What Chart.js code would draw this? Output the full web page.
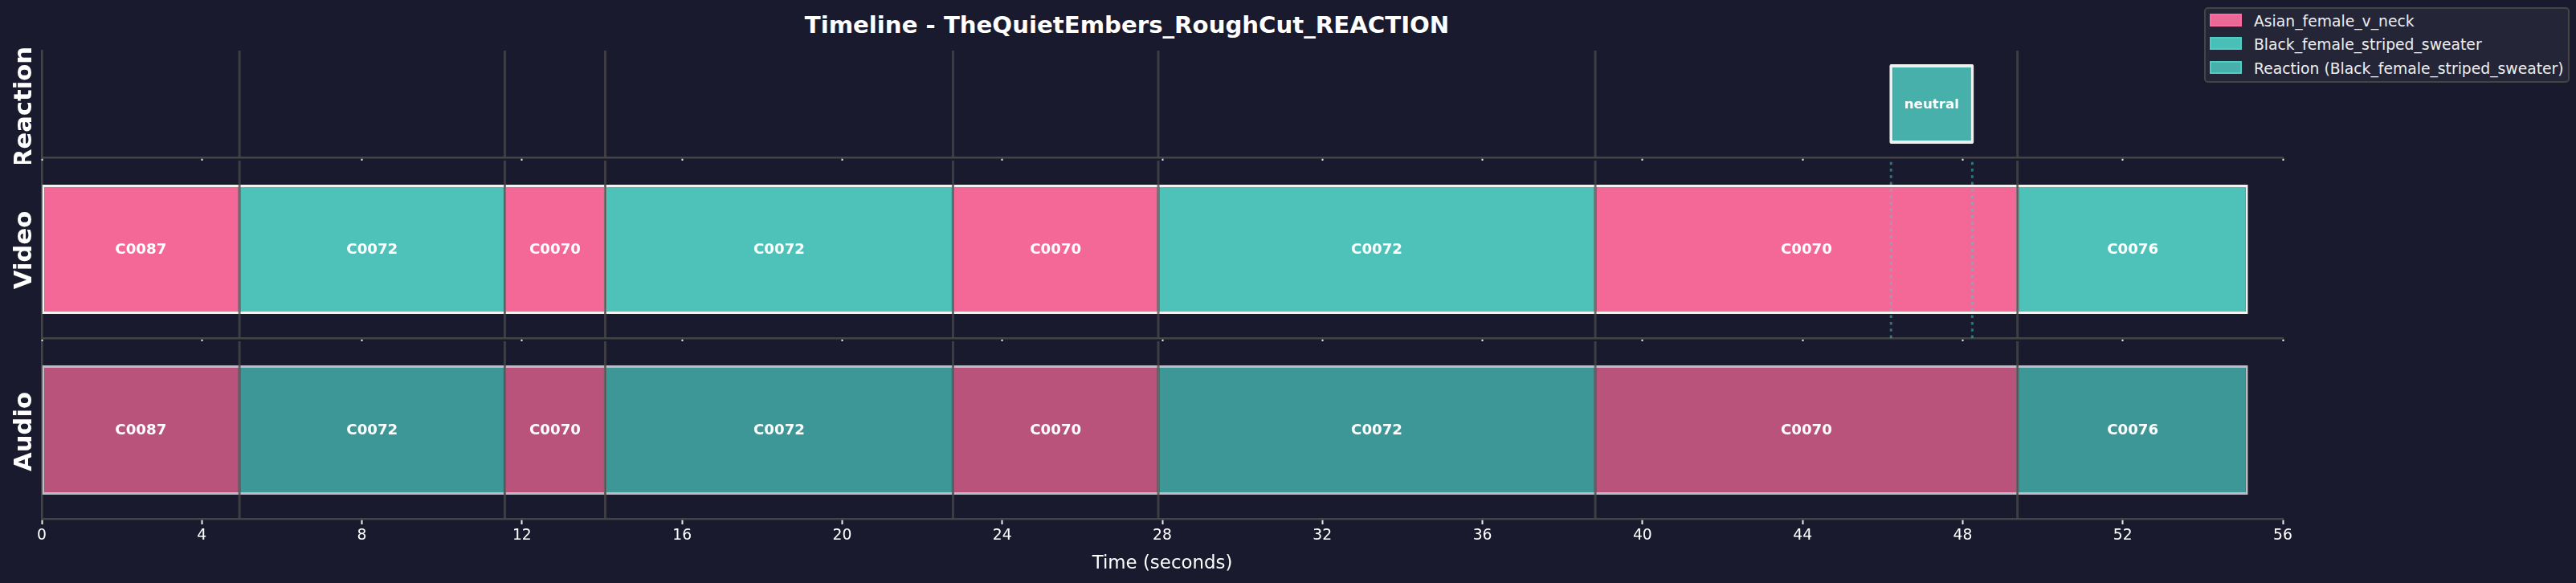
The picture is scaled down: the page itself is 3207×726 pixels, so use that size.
<!DOCTYPE html>
<html><head><meta charset="utf-8">
<script src="https://cdn.jsdelivr.net/npm/chart.js@4"></script>
<style>
html,body{margin:0;padding:0;background:#1a1a2e;width:3207px;height:726px;overflow:hidden;font-family:"DejaVu Sans",sans-serif}
canvas{position:absolute;left:0}
#title{position:absolute;left:0;width:2806px;top:13px;text-align:center;color:#fff;font-weight:bold;font-size:29.2px;line-height:36px;white-space:nowrap}
#legend{position:absolute;left:2744px;top:9px;width:451px;height:90px;background:#252538;border:2px solid #444;border-radius:5px}
.row{position:absolute;left:60px;color:#eee;font-size:18.75px;line-height:26px;white-space:nowrap}
.sw{position:absolute;left:5px;width:36px;height:12px;border:2px solid}
</style></head><body>
<div id="title">Timeline - TheQuietEmbers_RoughCut_REACTION</div>
<canvas id="cReaction" width="3207" height="204" style="top:0"></canvas>
<canvas id="cVideo" width="3207" height="229" style="top:200px"></canvas>
<canvas id="cAudio" width="3207" height="291" style="top:425px"></canvas>
<div id="legend"></div>
<script>
const xTicksStep = 4;
const xMax = 56;
const cutTimes = [4.94, 11.57, 14.08, 22.77, 27.90, 38.82, 49.37];
const clipStarts = [0, 4.94, 11.57, 14.08, 22.77, 27.90, 38.82, 49.37];
const clipEnds = [4.94, 11.57, 14.08, 22.77, 27.90, 38.82, 49.37, 55.13];
const clipNames = ['C0087','C0072','C0070','C0072','C0070','C0072','C0070','C0076'];
const clipSpeakers = [0,1,0,1,0,1,0,1];
const speakerNames = ['Asian_female_v_neck','Black_female_striped_sweater'];
const reactionStarts = [46.17];
const reactionEnds = [48.28];
const reactionMarkers = [46.21, 48.24];
const reactionLabels = ['neutral'];
const reactionName = 'Reaction (Black_female_striped_sweater)';

const FONT = '"DejaVu Sans"';
const videoFill = ['#F46897','#4EC2B9'];
const audioFill = ['#BA537C','#3E9797'];
const reactionFill = '#47B0AB';

const labelPlugin = {
  id:'clipLabels',
  afterDraw(chart){
    const ctx = chart.ctx;
    chart.data.datasets.forEach((ds,i)=>{
      if(!ds.clipText) return;
      chart.getDatasetMeta(i).data.forEach((el,j)=>{
        const p = el.getCenterPoint();
        ctx.save();
        ctx.fillStyle='#fff';
        ctx.font='bold '+ds.clipFont+'px '+FONT;
        ctx.textAlign='center';ctx.textBaseline='middle';
        ctx.fillText(ds.clipText[j],p.x,p.y+1);
        ctx.restore();
      });
    });
    const a = chart.chartArea;
    ctx.save();
    ctx.translate(31.4,(a.top+a.bottom)/2+chart.$titleShift);
    ctx.rotate(-Math.PI/2);
    ctx.fillStyle='#fff';
    ctx.font='bold 30.6px '+FONT;
    ctx.textAlign='center';ctx.textBaseline='middle';
    ctx.fillText(chart.data.labels[0],0,0);
    ctx.restore();
  }
};

function vline(times,color,width,dash,order){
  return {type:'line',xAxisID:'x',yAxisID:'yl',order,
    data:times.flatMap(t=>[{x:t,y:0},{x:t,y:1},{x:t,y:null}]),
    borderColor:color,borderWidth:width,borderDash:dash,pointRadius:0,fill:false,spanGaps:false,tension:0,borderCapStyle:'butt'};
}

function clipDatasets(track,fills,border){
  return speakerNames.map((name,s)=>{
    const idx = clipStarts.map((_,i)=>i).filter(i=>clipSpeakers[i]===s);
    return {type:'bar',label:name,indexAxis:'y',xAxisID:'x',yAxisID:'y',order:3,grouped:false,
      barPercentage:0.728,categoryPercentage:1,
      data:idx.map(i=>({x:[clipStarts[i],clipEnds[i]],y:track})),
      clipText:idx.map(i=>clipNames[i]),clipFont:18.2,
      backgroundColor:fills[s],borderColor:border,borderSkipped:false,
      borderWidth:c=>({top:3,bottom:3,
        left:c.raw&&c.raw.x[0]===clipStarts[0]?3:1.5,
        right:c.raw&&c.raw.x[1]===clipEnds[clipEnds.length-1]?3:1.5})};
  });
}

function makeChart(id,track,datasets,o){
  const chart = new Chart(document.getElementById(id),{
    type:'bar',
    data:{labels:[track],datasets},
    plugins:[labelPlugin],
    options:{
      responsive:false,animation:false,devicePixelRatio:1,
      layout:{padding:{left:0,right:365,top:o.top,bottom:0}},
      plugins:{legend:{display:false},title:{display:false},tooltip:{enabled:false}},
      scales:{
        x:{type:'linear',position:'bottom',min:0,max:xMax,offset:false,
          afterFit:s=>{s.height=o.xh},
          border:{display:true,color:'#444',width:2.5},
          grid:{offset:false,drawOnChartArea:false,drawTicks:true,tickLength:o.tick,tickColor:'#eee',tickWidth:2},
          ticks:{display:o.labels,stepSize:xTicksStep,color:'#fff',font:{family:FONT,size:18.75},padding:3,maxRotation:0,autoSkip:false},
          title:{display:o.labels,text:'Time (seconds)',color:'#fff',font:{family:FONT,size:22.9},padding:{top:2,bottom:0}}},
        y:{type:'category',position:'left',labels:[track],offset:true,
          afterFit:s=>{s.width=52},
          border:{display:true,color:'#444',width:2.5},
          grid:{display:false},
          ticks:{display:false}},
        yl:{type:'linear',display:false,min:0,max:1}
      }
    }
  });
  chart.$titleShift = o.shift;
  chart.draw();
  return chart;
}

const cutColor='rgba(74,74,74,0.75)';
makeChart('cReaction','Reaction',[
  {type:'bar',label:reactionName,indexAxis:'y',xAxisID:'x',yAxisID:'y',order:3,grouped:false,
   barPercentage:0.745,categoryPercentage:1,
   data:reactionStarts.map((s,i)=>({x:[s,reactionEnds[i]],y:'Reaction'})),
   clipText:reactionLabels,clipFont:16.67,
   backgroundColor:reactionFill,borderColor:'#eef0f0',borderWidth:4,borderRadius:2,borderSkipped:false},
  vline(cutTimes,cutColor,3,[],1)
],{top:63,xh:8,tick:4,labels:false,shift:4});

makeChart('cVideo','Video',[
  ...clipDatasets('Video',videoFill,'#F2F2F3'),
  vline(cutTimes,cutColor,3,[],1),
  vline(reactionMarkers,'rgba(78,205,196,0.5)',3,[3.5,4.8],2)
],{top:0,xh:8,tick:4,labels:false,shift:1});

makeChart('cAudio','Audio',[
  ...clipDatasets('Audio',audioFill,'#BDBDC4'),
  vline(cutTimes,cutColor,3,[],1)
],{top:0,xh:70,tick:7,labels:true,shift:2});

const legendItems=[[speakerNames[0],'#EC6997','#FF6B9D',8],[speakerNames[1],'#4ABFB7','#4ECDC4',37],[reactionName,'#47B0AB','#4ECDC4',67]];
const lg=document.getElementById('legend');
legendItems.forEach(([t,f,b,y])=>{
  const sw=document.createElement('div');sw.className='sw';sw.style.top=(y-2)+'px';sw.style.background=f;sw.style.borderColor=b;lg.appendChild(sw);
  const r=document.createElement('div');r.className='row';r.style.top=(y-5)+'px';r.textContent=t;lg.appendChild(r);
});
</script></body></html>
